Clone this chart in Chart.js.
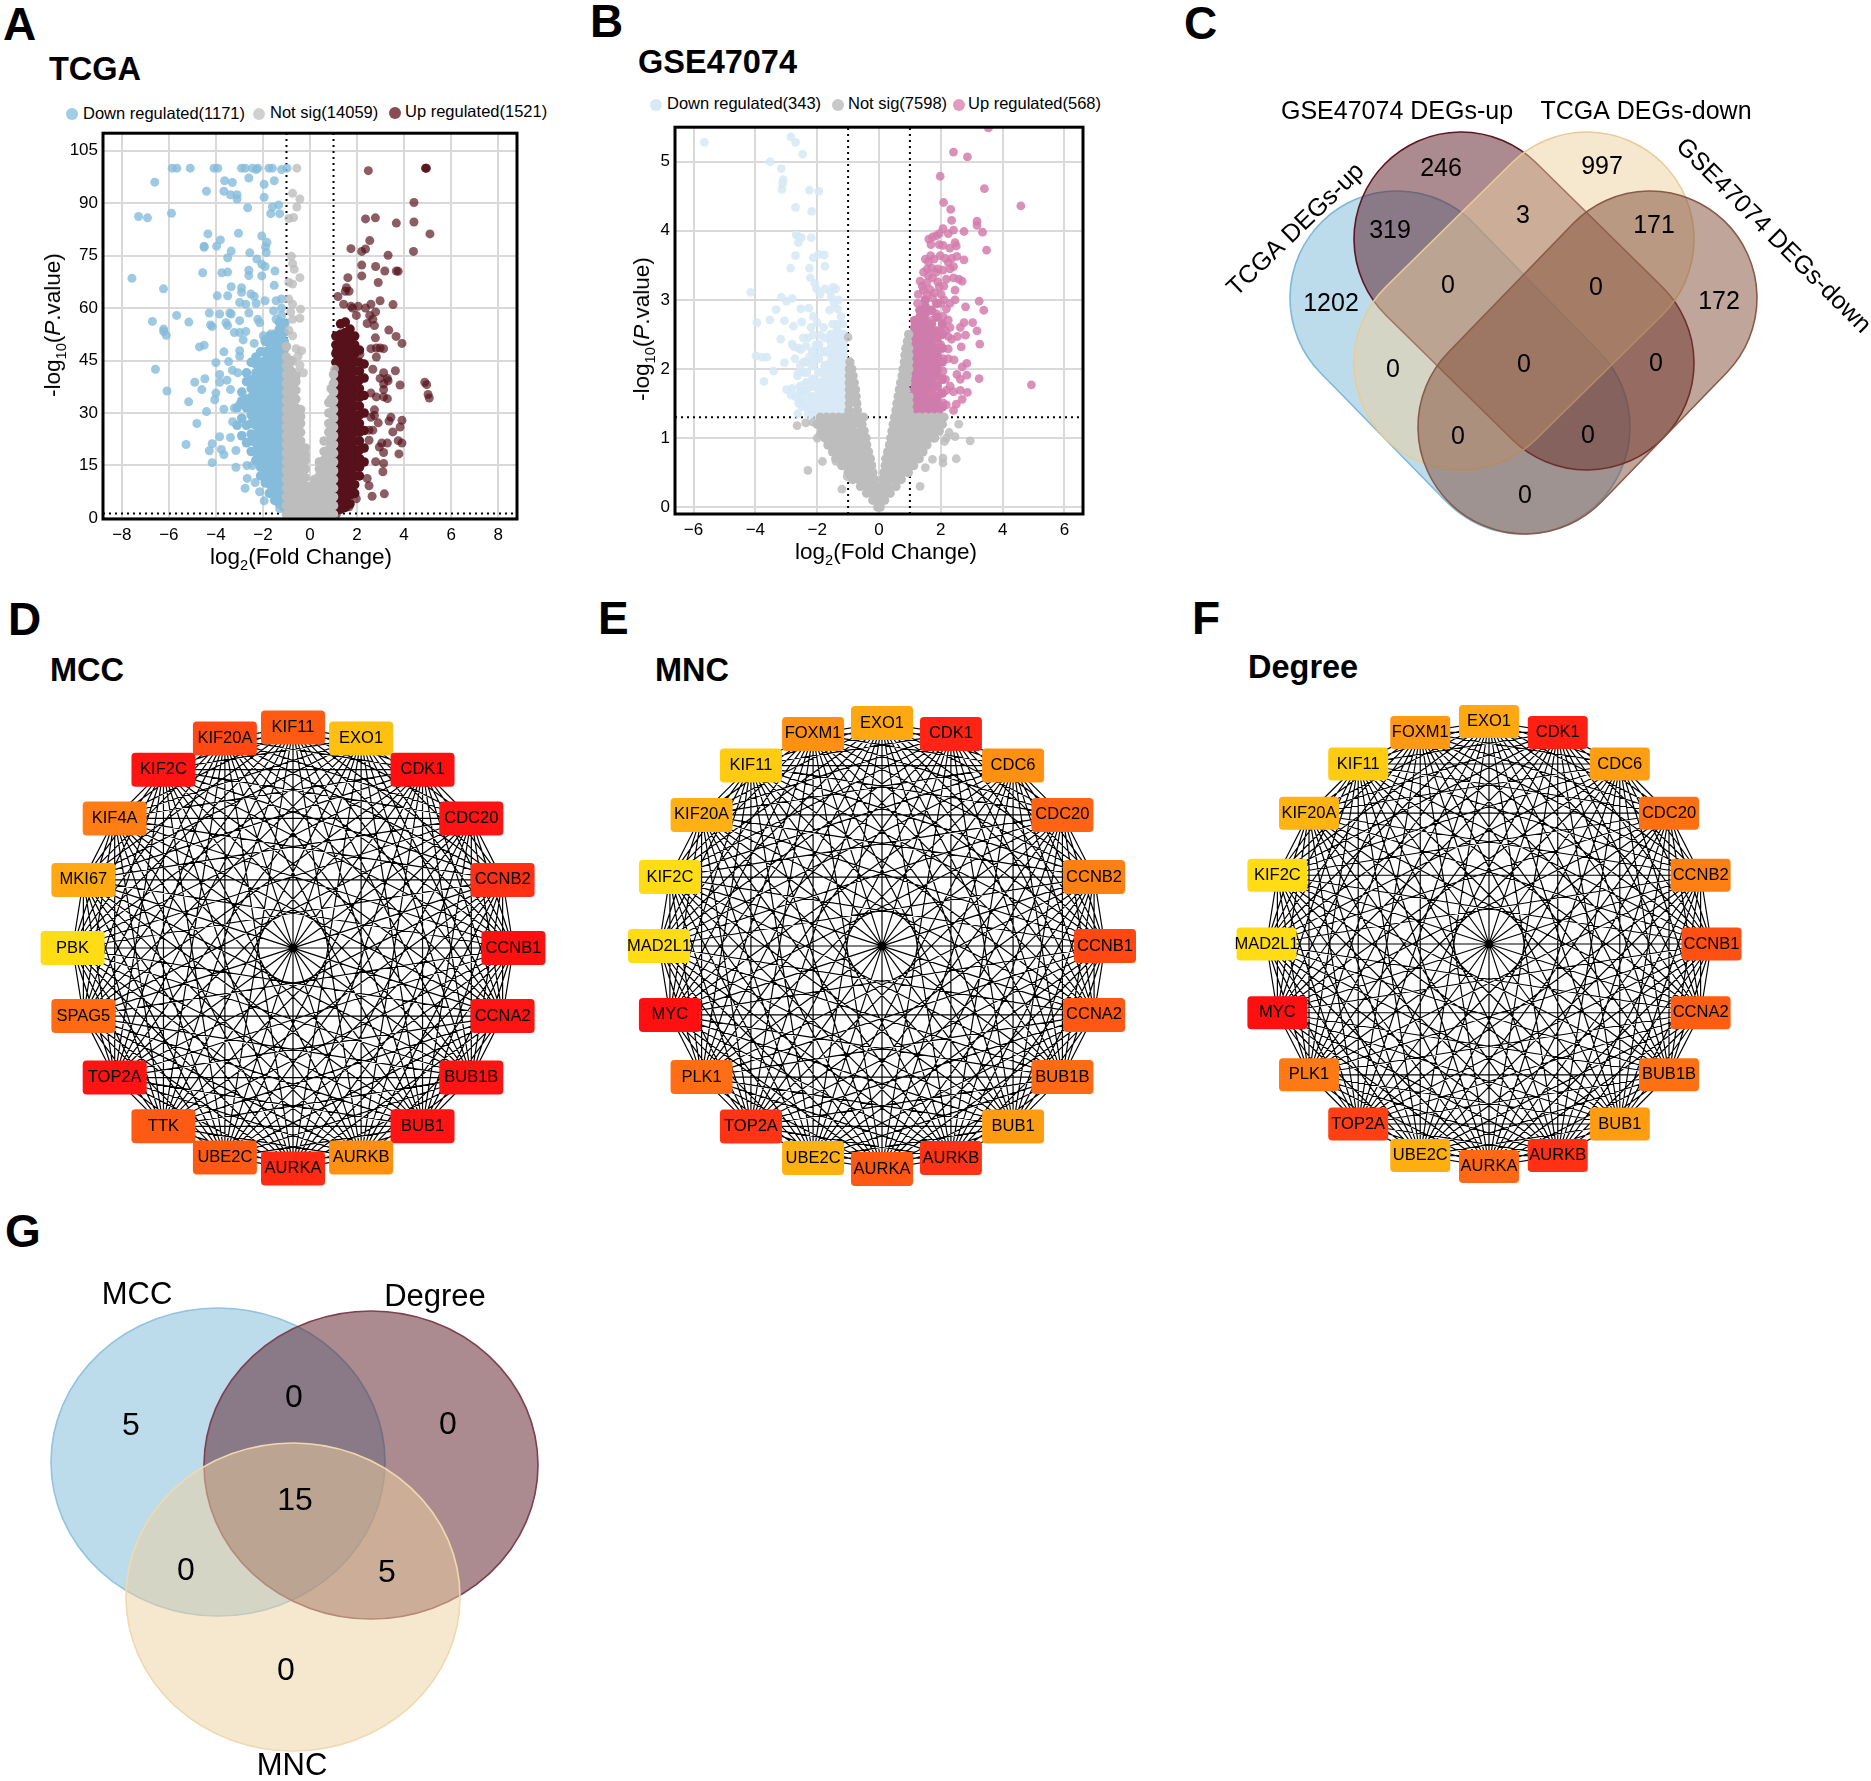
<!DOCTYPE html>
<html>
<head>
<meta charset="utf-8">
<title>DEG volcano plots, Venn diagrams and hub gene networks</title>
<script src="https://cdn.jsdelivr.net/npm/chart.js@4/dist/chart.umd.min.js"></script>
<style>
  html, body { margin: 0; background: #fff; }
  body { position: relative; width: 1871px; height: 1781px; overflow: hidden; color: #000;
         font-family: "Liberation Sans", Arial, sans-serif; }
  canvas { position: absolute; }
  .t { position: absolute; white-space: nowrap; }
  .dot { position: absolute; width: 12px; height: 12px; border-radius: 50%; transform: translate(-50%, -50%); }
  sub { font-size: .65em; line-height: 0; }
</style>
</head>
<body>
<script>
// ---- A: TCGA volcano ----
const tcgaXTicks = [-8, -6, -4, -2, 0, 2, 4, 6, 8];
const tcgaYTicks = [0, 15, 30, 45, 60, 75, 90, 105];
const tcgaLegend = ['Down regulated(1171)', 'Not sig(14059)', 'Up regulated(1521)'];

const tcgaDownPoints = [[-5.86,100],[-5.66,100],[-5.09,100],[-4.08,100],[-3.92,100],[-2.91,100],[-2.76,100],[-2.45,100],[-2.29,99.6],[-2.22,100],[-1.75,100],[-1.6,100],[-1.21,99.6],[-0.98,100],
  [-6.6,96],[-7.29,86.2],[-6.91,85.8],[-5.89,87.1],[-4.4,93.4],[-3.63,96.4],[-3.3,95.9],[-3.66,93.4],[-3.38,92.4],[-3.1,92.4],[-3.1,91.2],[-2.6,97.2],[-1.95,95.4],[-1.52,96.4],[-1.95,91.7],[-2.65,88.7],[-1.6,88.9],[-1.33,89.5],[-1.67,87],[-1.29,87],
  [-4.34,81.2],[-3.81,79.5],[-3.97,77.7],[-4.5,77.7],[-4.5,77.4],[-3.04,81.4],[-2.05,80.6],[-1.83,78.8],[-1.89,77.5],[-1.86,75.9],[-3.35,76.3],[-3.5,74.4],[-2.56,75.8],[-2.26,74],[-2.05,72.5],[-1.91,71.9],[-1.49,70.6],[-4.56,70.1],[-3.75,70.1],[-3.5,70.3],[-2.6,70.8],[-2.6,69.3],[-2.05,69.2],[-7.57,68.5],
  [-6.23,65.5],[-3.35,66.1],[-2.91,65.8],[-2.91,64.5],[-2.51,64],[-2.37,63.4],[-1.52,66.5],[-3.94,63.5],[-3.5,63.5],[-2.99,61.6],[-2.73,61.1],[-2.29,61.3],[-1.91,62.1],[-1.44,62.1],[-1.21,62.6],[-4.28,58.6],[-3.84,58.3],[-3.41,58.6],[-3.35,58.3],[-2.6,58.6],[-2.22,56.8],[-1.55,59.2],[-1.21,60],[-5.67,57.9],[-6.7,56.2],[-5.15,56],
  [-6.22,54],[-6.22,53.3],[-6.11,52.2],[-4.23,55.2],[-4.16,54.7],[-3.57,55.8],[-3.5,55],[-2.99,56.4],[-2.14,55.8],[-1.44,56.8],[-1.21,57.9],[-1.05,55.8],[-3.22,53],[-2.99,53],[-2.73,53.3],[-2.84,50.9],[-1.98,52.1],[-1.67,52.6],[-1.29,54.2],[-4.7,48.9],[-4.5,49.4],[-3.66,47.5],[-2.99,47.8],[-2.37,49.9],[-1.91,51],
  [-4,44.4],[-3.46,44.7],[-2.99,46.2],[-6.57,42.5],[-3.84,41],[-3.3,42.2],[-3.07,41.5],[-3.53,39.4],[-4.47,39.8],[-4.9,38.8],[-3.84,38.8],[-6.08,36.3],[-4.6,36.7],[-4,35.7],[-4.05,33.8],[-3.38,36.7],[-5.16,33.2],[-3.66,31.1],[-3.22,31.4],[-2.99,32.5],[-4.4,30.4],[-3.29,27.5],[-4.81,27],
  [-5.27,21],[-3.84,23.2],[-3.38,23],[-4.16,21.2],[-3.77,19.6],[-4.28,19.2],[-3.66,18.1],[-3.15,19.3],[-4.16,15.8],[-3.15,14.5],[-2.68,15],[-2.45,15],[-2.67,11.3],[-2.33,10.1],[-2.76,8.5],[-2.14,7.5],[-1.95,4.9],[-1.75,7.1],[-1.29,2.6]];
// the solid mass of overlapping dots, one [x, [y...]] per column
const tcgaDownDense = [
  [-1.1,[3,5.5,8,10.5,13,15.5,18,20.5,23,25.5,28,30.5,33,35.5,38,40.5,43,45.5,48,50.5,53,55.5]],
  [-1.3,[4,6.5,9,11.5,14,16.5,19,21.5,24,26.5,29,31.5,34,36.5,39,41.5,44,46.5,49,51.5,54,56]],
  [-1.5,[5,7.5,10,12.5,15,17.5,20,22.5,25,27.5,30,32.5,35,37.5,40,42.5,45,47.5,50,52.5]],
  [-1.7,[7,9.5,12,14.5,17,19.5,22,24.5,27,29.5,32,34.5,37,39.5,42,44.5,47,49.5,52]],
  [-1.9,[10,12.5,15,17.5,20,22.5,25,27.5,30,32.5,35,37.5,40,42.5,45,47.5,50.5]],
  [-2.1,[12,14.5,17,19.5,22,24.5,27,29.5,32,34.5,37,39.5,42,44.5,47.5]],
  [-2.3,[16.5,19,21.5,24,26.5,29,31.5,34,36.5,39,41.5,44,46]],
  [-2.5,[19,22,24,27,29.5,32,34.5,37,39.5,44.5]],
  [-2.7,[21.5,26.5,31.5,34,39,41.5]],
  [-2.9,[23.5,28.5,33.5,36]],
  [-3.1,[26.5,31.5]]];

const tcgaNotSigPoints = [[-0.56,100],[-0.74,92.8],[-0.43,91.2],[-0.56,88.9],[-0.7,85.9],[-0.9,85.6],[-0.79,74.8],[-0.74,72.7],[-0.67,71.1],[-0.43,68.7],[-0.9,67.4],[-0.74,66.9],[-0.9,62.6],[-0.74,61.1],[-0.4,59.7],[-0.82,58.9],[-0.43,57.1],[-0.74,56.8],[-0.9,53.7],[-0.74,52.1],[-0.59,48.4],[-0.36,47.8],[-0.51,46.2],[-0.74,44.7],[-0.43,43.6],[-0.9,43.6],[-0.28,41.5],[-0.59,41.5],[1.04,42.5]];
const tcgaNotSigDense = [
  [-1,[1,3.5,6,8.5,11,13.5,16,18.5,21,23.5,26,28.5,31,33.5,36,38.5,41,43.5,46,49]],
  [-0.8,[0,2,4.5,7,9.5,12,14.5,17,19.5,22,24.5,27,29.5,32,34.5,37,39.5,42,45]],
  [-0.6,[-0.2,2,4,6.5,9,11.5,14,16.5,19,21.5,24,26.5,29,31.5,34,36.5,39,40.5]],
  [-0.4,[0,2,4.5,7,9.5,12,14.5,17,19.5,22,24.5,27,29,31]],
  [-0.2,[-0.2,2,4,6.5,9,11.5,14,16.5,18,20]],
  [0,[0,2,4.5,7,9]],
  [0.2,[-0.2,2,4,6.5,9,11]],
  [0.4,[0,2,4.5,7,9.5,12,14,16]],
  [0.6,[-0.2,2,4,6.5,9,11.5,14,16.5,19,22]],
  [0.8,[0,2,4.5,7,9.5,12,14.5,17,19.5,22,24.5,27,30,33]],
  [0.9,[1,5,10,15,20,25,30,34,37]],
  [1,[1,3.5,6,8.5,11,13.5,16,18.5,21,23.5,26,28.5,31,33.5,36,38.5,41]]];

const tcgaUpPoints = [[2.48,99.3],[4.91,100],[4.95,100],[4.93,100],[4.42,90.2],[2.36,85.5],[2.78,85.8],[3.67,84.3],[4.42,84.6],[5.1,81.2],[2.54,79.3],[1.74,77],[2.2,76.2],[2.36,76.9],[4.4,76.2],[3.32,75.1],[2.2,72.3],[2.79,71.9],[3.18,70.6],[3.67,70.6],[3.75,70.5],[2.2,69.2],[1.61,68.7],[2.9,67.3],[1.55,65.8],[1.5,64.8],[1.66,64.8],[1.19,63.3],
  [2.98,62.1],[2.59,61.1],[3.53,61],[2.05,60.5],[1.74,60.5],[1.43,61.1],[1.81,60],[2.79,58.9],[2.36,60],[2.54,57.9],[2.67,56.8],[2.43,55.6],[2.74,55],[1.97,57.9],[3.35,53.7],[3.66,51.9],[3.91,49.9],[2.78,51.5],[2.59,48.4],[2.82,48.6],[2.98,48.6],[3.13,48.4],[2.82,46],[2.12,46.8],
  [3.63,42.1],[3.13,41.5],[2.67,42.5],[3.29,39.9],[2.98,39.9],[3.32,39.2],[3.13,38.3],[3.83,38],[3.13,36.7],[4.88,38.8],[4.96,38.1],[5.02,35.3],[5.07,34.3],[2.59,35.7],[2.82,34.6],[3.13,34.6],[3.29,34.1],[2.74,30.9],[2.74,29.3],[3.44,28.8],[3.91,27.9],[3.36,27.7],[2.9,27.2],[2.59,28.8],[3.83,26],[3.52,24.6],[2.67,25.1],[2.51,25.1],
  [3.05,21.4],[3.29,21.4],[2.95,20.3],[3.75,22.1],[3.91,21.4],[3.13,18.7],[3.78,18.3],[2.51,22.2],[2.79,16.1],[3.13,15.6],[3.1,13.2],[2.43,11.3],[2.51,9.2],[2.64,6.2],[3.16,6.9],[1.97,5.5],[1.66,3.2],[1.12,1.1]];
const tcgaUpDense = [
  [1.1,[2,4.5,7,9.5,12,14.5,17,19.5,22,24.5,27,29.5,32,34.5,37,39.5,42,44.5,47,49.5,52]],
  [1.3,[2.5,5,7.5,10,12.5,15,17.5,20,22.5,25,27.5,30,32.5,35,37.5,40,42.5,45,47.5,50,52.5,55.5]],
  [1.5,[3,5.5,8,10.5,13,15.5,18,20.5,23,25.5,28,30.5,33,35.5,38,40.5,43,45.5,48,50.5,53,56]],
  [1.7,[4,6.5,9,11.5,14,16.5,19,21.5,24,26.5,29,31.5,34,36.5,39,41.5,44,46.5,49,51.5,54]],
  [1.9,[7,9.5,12,14.5,17,19.5,22,24.5,27,29.5,32,34.5,37,39.5,42,44.5,47,49.5,52]],
  [2.1,[12,14.5,17,19.5,22,24.5,27,29.5,32,34.5,37,39.5,42,44.5,48]],
  [2.3,[16,20,25,30,35,40,44]]];

// ---- B: GSE47074 volcano ----
const gseXTicks = [-6, -4, -2, 0, 2, 4, 6];
const gseYTicks = [0, 1, 2, 3, 4, 5];
const gseLegend = ['Down regulated(343)', 'Not sig(7598)', 'Up regulated(568)'];

const gseDownPoints = [[-5.65,5.28],[-2.85,5.36],[-2.7,5.28],[-2.47,5.11],[-3.52,5],[-3.16,4.9],[-3.1,4.74],[-3.12,4.68],[-3.14,4.6],[-2.25,4.59],[-1.95,4.57],[-2.7,4.34],[-2.18,4.28],[-2.68,3.94],[-2.59,3.91],[-2.51,3.9],[-2.19,3.9],[-2.61,3.83],[-2.7,3.64],[-2.13,3.61],[-1.95,3.66],[-1.77,3.65],[-2.86,3.46],[-2.25,3.46],[-1.75,3.49],[-2.22,3.32],[-2.08,3.24],[-2.02,3.16],[-4.15,3.11],[-3.16,3.04],[-2.81,3.02],[-2.99,2.98],[-1.74,3.16],[-1.48,3.18],[-1.57,3.11],[-1.4,3.16],[-1.91,3.08],[-1.54,3.03],[-1.45,2.95],[-1.34,2.87],[-3.33,2.86],[-2.53,2.87],[-2.27,2.88],[-1.23,2.76],[-1.17,2.65],[-3.53,2.71],[-3.06,2.7],[-2.13,2.76],[-2.5,2.68],[-2.77,2.62],[-3.95,2.67],[-2,2.67],[-1.79,2.6],[-3.18,2.43],[-2.81,2.36],[-2.76,2.32],[-2.53,2.28],[-2.36,2.33],[-3.98,2.19],[-3.78,2.17],[-3.63,2.17],[-3.06,2.09],[-2.72,2.15],[-3.41,1.97],[-3.72,1.82],[-2.99,1.7],[-2.84,1.62],[-2.64,1.9],[-2.5,1.69],[-2.81,1.72],[-2.13,2.49],[-1.91,2.49],[-2.25,2.17],[-2.62,1.35],[-2.36,1.64],[-2.36,1.53],
  [-2.45,2.45],[-2.3,2.45],[-2.6,2.3],[-2.2,2.6],[-2.05,2.35],[-2.45,2.1],[-2.55,2.05],[-2.6,1.95],[-2.45,1.95],[-2.7,1.6],[-2.6,1.5],[-2.5,1.45],[-2.3,1.35],[-2.15,1.35],[-1.35,2.65],[-1.5,2.65],[-1.3,3],[-1.6,2.85],[-1.75,2.45],[-1.85,2.25],[-2.05,2.15]];
const gseDownDense = [
  [-1.15,[1.4,1.5,1.6,1.7,1.8,1.9,2,2.1,2.2,2.3,2.4,2.5]],
  [-1.35,[1.35,1.45,1.55,1.65,1.75,1.85,1.95,2.05,2.15,2.25,2.35,2.45,2.55]],
  [-1.55,[1.4,1.5,1.6,1.7,1.8,1.9,2,2.1,2.2,2.3,2.4,2.5]],
  [-1.75,[1.35,1.45,1.55,1.65,1.75,1.85,1.95,2.05,2.25]],
  [-1.95,[1.4,1.5,1.6,1.7,1.8,1.95,2.15,2.35]],
  [-2.15,[1.4,1.5,1.6,1.75,1.85,2.05,2.25]],
  [-2.35,[1.45,1.7,1.8,1.95,2.1]],
  [-2.55,[1.55,1.65,1.75]]];

const gseNotSigPoints = [[-2.65,1.18],[-2.37,1.22],[-2.14,1.23],[-2,1],[-1.9,1.05],[-1.83,0.66],[-2.3,0.53],[-1.39,0.66],[-1.2,0.26],[-1.03,0.44],[1.33,0.3],[1.73,0.69],[2.07,0.71],[2.07,0.64],[2.5,0.7],[2.95,0.96],[2.58,1.2],[2.46,1.02],[2.27,1.08],[2.12,0.95],[2.18,1],[-1,2.46],[1.73,1],[1.5,0.57]];
// dense V shape, one [y, [x...]] per row
const gseNotSigDense = [
  [2.5,[0.96]],[2.4,[0.92]],[2.3,[0.87,0.96]],[2.2,[0.84,0.96]],[2.1,[-0.94,0.82,0.96]],[2,[-0.96,-0.88,0.78,0.96]],
  [1.9,[-0.96,-0.84,0.75,0.92]],[1.8,[-0.96,-0.8,0.7,0.9]],[1.7,[-0.96,-0.76,0.66,0.86]],
  [1.6,[-0.96,-0.74,0.62,0.82,0.97]],[1.5,[-0.96,-0.72,0.58,0.78,0.97]],[1.4,[-0.97,-0.7,0.55,0.75,0.97]],
  [1.3,[-1.9,-1.7,-1.5,-1.3,-1.1,-0.9,-0.68,-0.5,0.5,0.7,0.9,1.1,1.3,1.5,1.7,1.9,2.1]],
  [1.2,[-2,-1.8,-1.6,-1.4,-1.2,-1,-0.8,-0.55,0.46,0.66,0.86,1.06,1.26,1.46,1.66,1.86,2.05]],
  [1.1,[-1.85,-1.65,-1.45,-1.25,-1.05,-0.85,-0.6,-0.48,0.42,0.62,0.82,1.02,1.22,1.42,1.62,1.82,1.95]],
  [1,[-1.75,-1.55,-1.35,-1.15,-0.95,-0.75,-0.55,-0.42,0.38,0.58,0.78,0.98,1.18,1.38,1.58,1.8]],
  [0.9,[-1.65,-1.45,-1.25,-1.05,-0.85,-0.65,-0.4,0.34,0.54,0.74,0.94,1.14,1.34,1.55]],
  [0.8,[-1.5,-1.3,-1.1,-0.9,-0.7,-0.5,-0.34,0.28,0.5,0.7,0.9,1.1,1.3,1.42]],
  [0.7,[-1.4,-1.2,-1,-0.8,-0.6,-0.42,-0.28,0.22,0.42,0.62,0.82,1.02,1.22,1.3]],
  [0.6,[-1.2,-1,-0.8,-0.6,-0.42,-0.24,0.2,0.4,0.6,0.8,1,1.12]],
  [0.5,[-1,-0.8,-0.6,-0.4,-0.2,0.16,0.36,0.56,0.76,0.95]],
  [0.4,[-0.85,-0.65,-0.45,-0.25,-0.15,0.12,0.32,0.52,0.72]],
  [0.3,[-0.6,-0.4,-0.2,-0.1,0.1,0.3,0.55]],
  [0.2,[-0.4,-0.22,-0.06,0.06,0.2,0.36]],[0.1,[-0.2,-0.05,0.05,0.18]],[0,[-0.04,0.04]]];

const gseUpPoints = [[3.54,5.49],[2.41,5.14],[2.86,5.07],[1.98,4.79],[3.41,4.61],[4.59,4.36],[2.09,4.41],[2.32,4.31],[3.17,4.14],[3.17,4.08],[2.35,4.15],[2.41,4.01],[2.07,4.03],[2.75,3.99],[3.35,3.98],[1.95,3.96],[1.73,3.91],[1.61,3.88],[1.86,3.93],[2.24,3.96],[1.68,3.8],[1.95,3.8],[2.07,3.79],[2.46,3.83],[2.29,3.75],[3.48,3.72],[2.5,3.78],[1.5,3.59],[1.67,3.64],[1.78,3.59],[1.98,3.64],[2.24,3.54],[2.52,3.63],[2.75,3.58],[1.33,3.27],[1.56,3.45],[1.7,3.46],[2.07,3.43],[2.41,3.48],[2.58,3.3],[2.69,3.27],[2.41,3.32],[1.44,3.4],[1.73,3.32],[1.9,3.26],[2.18,3.3],[2.46,3.14],[1.95,3.19],[1.27,3.08],[1.44,3.14],[1.56,3.08],[1.73,3.03],[2.01,3.08],[2.46,3],[3.24,2.98],[3.39,2.85],[2.8,2.9],[2.18,2.87],[1.73,2.71],[2.07,2.76],[2.24,2.71],[3.03,2.67],[2.75,2.67],[2.63,2.6],[3.17,2.55],[2.8,2.49],[2.54,2.47],[2.24,2.47],[2.35,2.43],[3.26,2.36],[2.66,2.32],[2.24,2.29],[1.9,2.39],[2.84,2.08],[2.69,2.03],[2.07,2.15],[2.24,2.15],[2.43,2.13],[2.07,1.97],[2.52,1.92],[2.84,1.91],[2.63,1.85],[3.24,1.86],[4.93,1.77],[2.18,1.69],[2.63,1.69],[2.86,1.66],[2.41,1.67],[2.69,1.56],[2.5,1.49],[2.41,1.4],[1.95,1.83],[1.9,1.69],[2.07,1.51],[1.95,1.35],[2.18,1.48],[1.73,1.64],
  [1.25,2.95],[1.4,3.2],[1.55,3.25],[1.65,3.15],[1.8,3.1],[1.85,2.95],[2,2.95],[2.1,3],[2.3,2.95],[2.3,2.6],[2.15,2.55],[1.85,3.4],[1.6,3.55],[2.15,3.6],[2.35,3.6],[1.9,3.45],[2.3,3.45],[2.1,3.2],[1.6,3.35],[1.85,2.8],[2,2.55],[2,2.35],[2.15,1.85],[2.3,1.75],[2.05,1.3]];
const gseUpDense = [
  [1.15,[1.4,1.5,1.6,1.7,1.8,1.9,2,2.1,2.2,2.3,2.4,2.5,2.6,2.7]],
  [1.32,[1.35,1.45,1.55,1.65,1.75,1.85,1.95,2.05,2.15,2.25,2.35,2.45,2.55,2.65,2.75,2.85]],
  [1.5,[1.4,1.5,1.6,1.7,1.8,1.9,2,2.1,2.2,2.3,2.4,2.5,2.6,2.7,2.8,2.9,3]],
  [1.7,[1.35,1.45,1.55,1.65,1.75,1.85,1.95,2.05,2.15,2.25,2.35,2.45,2.55,2.65,2.85]],
  [1.88,[1.4,1.5,1.6,1.75,1.9,2,2.1,2.2,2.3,2.45,2.55,2.75,2.95]],
  [2.05,[1.45,1.65,1.85,2.1,2.3,2.5,2.65]]];

// fold change and p value cut-offs, same for both datasets
const foldCuts = [-1, 1];
const pCut = 1.3;

// ---- C and G: Venn diagrams ----
const vennCNames = ['GSE47074 DEGs-up', 'TCGA DEGs-down', 'TCGA DEGs-up', 'GSE47074 DEGs-down'];
const vennCNameX = [1397, 1646, 1296, 1773];
const vennCNameY = [112, 112, 230, 236];
const vennCNameAngle = [0, 0, -44, 45];
const vennCCounts = ['1202', '246', '319', '3', '997', '171', '172', '0', '0', '0', '0', '0', '0', '0', '0'];
const vennCCountX = [1331, 1441, 1390, 1523, 1602, 1654, 1719, 1448, 1596, 1393, 1524, 1656, 1458, 1588, 1525];
const vennCCountY = [304, 169, 231, 216, 167, 226, 302, 286, 288, 370, 365, 364, 437, 436, 496];
const vennCLobes = [
  { ends: [1397, 298, 1523, 427], fill: 'rgba(117,181,214,.48)', edge: '#7DB9D9' },
  { ends: [1461, 239, 1587, 363], fill: 'rgba(87,24,34,.5)', edge: '#5E1520' },
  { ends: [1587, 239, 1461, 363], fill: 'rgba(237,207,159,.5)', edge: '#E9CB97' },
  { ends: [1650, 298, 1525, 427], fill: 'rgba(127,76,53,.5)', edge: '#8A5A48' }
];
const vennCLobeRadius = 107;

const vennGNames = ['MCC', 'Degree', 'MNC'];
const vennGNameX = [137, 435, 292];
const vennGNameY = [1295, 1297, 1766];
const vennGCounts = ['5', '0', '0', '15', '0', '5', '0'];
const vennGCountX = [131, 294, 448, 295, 186, 387, 286];
const vennGCountY = [1426, 1398, 1425, 1501, 1571, 1573, 1671];
const vennGSets = [
  { cx: 218, cy: 1462, rx: 167, ry: 154, fill: 'rgba(117,181,214,.48)', edge: '#92C4DF' },
  { cx: 371, cy: 1465, rx: 167, ry: 154, fill: 'rgba(87,24,34,.5)', edge: '#7E4050' },
  { cx: 293, cy: 1597, rx: 167, ry: 154, fill: 'rgba(237,207,159,.5)', edge: '#EFD9AF' }
];

// ---- D, E, F: hub gene networks, clockwise from the top node ----
const mccGenes = ['KIF11','EXO1','CDK1','CDC20','CCNB2','CCNB1','CCNA2','BUB1B','BUB1','AURKB','AURKA','UBE2C','TTK','TOP2A','SPAG5','PBK','MKI67','KIF4A','KIF2C','KIF20A'];
const mccColors = ['#FF5A14','#FFC010','#FF1010','#FF1414','#FF2F14','#FF1010','#FF1414','#FF1414','#FF1414','#FF9012','#FF2A14','#FF5A14','#FF5A14','#FF1414','#FF6A14','#FFDC14','#FFA812','#FF7D14','#FF1414','#FF4814'];
const mncGenes = ['EXO1','CDK1','CDC6','CDC20','CCNB2','CCNB1','CCNA2','BUB1B','BUB1','AURKB','AURKA','UBE2C','TOP2A','PLK1','MYC','MAD2L1','KIF2C','KIF20A','KIF11','FOXM1'];
const mncColors = ['#FFA812','#FF2414','#FF9012','#FF6414','#FF8012','#FF4814','#FF5814','#FF6A14','#FF9C12','#FF3414','#FF5814','#FFB012','#FF3414','#FF6E14','#FF1010','#FFDC14','#FFDC14','#FFB012','#FFCC12','#FF9012'];
const degreeGenes = mncGenes;
const degreeColors = ['#FFA812','#FF2014','#FF9E12','#FF7012','#FF8012','#FF5014','#FF5C14','#FF7012','#FF9C12','#FF3014','#FF6814','#FFAE12','#FF4014','#FF7A14','#FF1010','#FFDC14','#FFDC14','#FFB412','#FFCC12','#FF9812'];

// ---- helpers ----
const FONT = '"Liberation Sans", Arial, sans-serif';

function addText(html, x, y, css, anchorLeft, rotate) {
  const el = document.createElement('div');
  el.className = 't';
  el.innerHTML = html;
  el.style.cssText = `left:${x}px;top:${y}px;${css};transform:translate(${anchorLeft ? '0' : '-50%'},-50%)${rotate ? ' rotate(' + rotate + 'deg)' : ''}`;
  document.body.appendChild(el);
}

function addCanvas(left, top, width, height) {
  const c = document.createElement('canvas');
  c.width = width;
  c.height = height;
  c.style.left = left + 'px';
  c.style.top = top + 'px';
  document.body.appendChild(c);
  return c.getContext('2d');
}

const pairs = list => list.map(([x, y]) => ({ x, y }));
const columns = list => list.flatMap(([x, ys]) => ys.map(y => ({ x, y })));
const rows = list => list.flatMap(([y, xs]) => xs.map(x => ({ x, y })));

// black frame round the plot area
const framePlugin = {
  id: 'frame',
  afterDraw(chart) {
    const a = chart.chartArea, ctx = chart.ctx;
    ctx.save();
    ctx.strokeStyle = '#000';
    ctx.lineWidth = 3;
    ctx.strokeRect(a.left, a.top, a.width, a.height);
    ctx.restore();
  }
};

// venn shapes, sized in data units and placed through the scales
const vennPlugin = {
  id: 'vennShapes',
  beforeDatasetsDraw(chart, args, opts) {
    const ctx = chart.ctx, sx = chart.scales.x, sy = chart.scales.y;
    for (const s of opts.shapes || []) {
      ctx.beginPath();
      if (s.ends) {
        const [a, b, c, d] = s.ends;
        const x1 = sx.getPixelForValue(a), y1 = sy.getPixelForValue(b);
        const x2 = sx.getPixelForValue(c), y2 = sy.getPixelForValue(d);
        const t = Math.atan2(y2 - y1, x2 - x1);
        ctx.arc(x1, y1, opts.radius, t + Math.PI / 2, t + Math.PI * 1.5);
        ctx.arc(x2, y2, opts.radius, t - Math.PI / 2, t + Math.PI / 2);
        ctx.closePath();
      } else {
        ctx.ellipse(sx.getPixelForValue(s.cx), sy.getPixelForValue(s.cy), s.rx, s.ry, 0, 0, Math.PI * 2);
      }
      ctx.fillStyle = s.fill;
      ctx.fill();
      ctx.strokeStyle = s.edge;
      ctx.lineWidth = 1.6;
      ctx.stroke();
    }
  }
};

// text (and optional boxes) on the points of a dataset
const markTextPlugin = {
  id: 'markText',
  afterDatasetsDraw(chart) {
    const ctx = chart.ctx;
    chart.data.datasets.forEach((ds, di) => {
      if (!ds.texts) return;
      chart.getDatasetMeta(di).data.forEach((pt, i) => {
        ctx.save();
        ctx.translate(pt.x, pt.y);
        if (ds.boxColors) {
          ctx.fillStyle = ds.boxColors[i];
          ctx.beginPath();
          ctx.roundRect(-ds.boxW / 2, -ds.boxH / 2, ds.boxW, ds.boxH, 4);
          ctx.fill();
        }
        if (ds.angles) ctx.rotate(ds.angles[i] * Math.PI / 180);
        ctx.fillStyle = '#000';
        ctx.font = ds.textFont;
        ctx.textAlign = 'center';
        ctx.textBaseline = 'middle';
        ctx.fillText(ds.texts[i], 0, 0);
        ctx.restore();
      });
    });
  }
};

const scatterOptions = {
  responsive: false,
  animation: false,
  devicePixelRatio: 1,
  events: []
};

function cutLine(points) {
  return { data: points, showLine: true, borderColor: '#000', borderWidth: 2, borderDash: [2, 4], pointRadius: 0, fill: false };
}

function dots(data, color, radius) {
  return { data, backgroundColor: color, borderWidth: 0, pointRadius: radius, showLine: false };
}

function volcano(box, xRange, yRange, xTicks, yTicks, datasets) {
  const pad = 60, topPad = 12; // topPad is more than half a tick label
  const ctx = addCanvas(box.left - pad, box.top - topPad, box.width + pad + 12, box.height + topPad + 40);
  const axisStyle = { color: '#000', font: { family: FONT, size: 17 } };
  const minus = v => (v < 0 ? '\u2212' + (-v) : '' + v);
  new Chart(ctx, {
    type: 'scatter',
    data: { datasets },
    plugins: [framePlugin],
    options: {
      ...scatterOptions,
      layout: { padding: { top: topPad, right: 12, left: 0, bottom: 0 } },
      plugins: { legend: { display: false }, tooltip: { enabled: false } },
      scales: {
        x: {
          type: 'linear', min: xRange[0], max: xRange[1],
          afterBuildTicks: s => { s.ticks = xTicks.map(value => ({ value })); },
          afterFit: s => { s.height = 40; },
          grid: { color: '#d9d9d9', lineWidth: 2, drawTicks: false },
          border: { display: false },
          ticks: { ...axisStyle, padding: 6, maxRotation: 0, callback: minus }
        },
        y: {
          type: 'linear', min: yRange[0], max: yRange[1],
          afterBuildTicks: s => { s.ticks = yTicks.map(value => ({ value })); },
          afterFit: s => { s.width = pad; },
          grid: { color: '#d9d9d9', lineWidth: 2, drawTicks: false },
          border: { display: false },
          ticks: { ...axisStyle, padding: 5, callback: minus }
        }
      }
    }
  });
}

function legendRow(items, dotX, dotY, textX, textY, colors) {
  items.forEach((s, i) => {
    const d = document.createElement('div');
    d.className = 'dot';
    d.style.left = dotX[i] + 'px';
    d.style.top = dotY[i] + 'px';
    d.style.background = colors[i];
    document.body.appendChild(d);
    addText(s, textX[i], textY[i], 'font-size:16.5px', true);
  });
}

function venn(left, top, width, height, shapes, radius, datasets) {
  const ctx = addCanvas(left, top, width, height);
  new Chart(ctx, {
    type: 'scatter',
    data: { datasets },
    plugins: [vennPlugin, markTextPlugin],
    options: {
      ...scatterOptions,
      plugins: { legend: { display: false }, tooltip: { enabled: false }, vennShapes: { shapes, radius } },
      scales: {
        x: { type: 'linear', display: false, min: left, max: left + width },
        y: { type: 'linear', display: false, reverse: true, min: top, max: top + height }
      }
    }
  });
}

function textPoints(texts, xs, ys, fontSize, angles) {
  return {
    data: xs.map((x, i) => ({ x, y: ys[i] })), pointRadius: 0, showLine: false,
    texts, angles, textFont: `${fontSize}px ${FONT}`
  };
}

function network(cx, cy, radius, boxW, boxH, genes, colors) {
  const half = 290;
  const ctx = addCanvas(cx - half, cy - half, half * 2, half * 2);
  const nodes = genes.map((g, i) => {
    const a = 2 * Math.PI * i / genes.length;
    return { x: radius * Math.sin(a), y: radius * Math.cos(a) };
  });
  // every gene links to every other gene
  const edges = [];
  nodes.forEach((n, i) => nodes.slice(i + 1).forEach(m => edges.push(n, m, { x: NaN, y: NaN })));
  new Chart(ctx, {
    type: 'scatter',
    data: {
      datasets: [
        { data: nodes, pointRadius: 0, showLine: false, texts: genes, boxColors: colors, boxW, boxH, textFont: `16.5px ${FONT}` },
        { data: edges, showLine: true, spanGaps: false, borderColor: '#000', borderWidth: 1.2, pointRadius: 0, fill: false }
      ]
    },
    plugins: [markTextPlugin],
    options: {
      ...scatterOptions,
      plugins: { legend: { display: false }, tooltip: { enabled: false } },
      scales: {
        x: { type: 'linear', display: false, min: -half, max: half },
        y: { type: 'linear', display: false, min: -half, max: half }
      }
    }
  });
}

// ---- page ----
const panelFont = 'font-size:46px;font-weight:bold';
const titleFont = 'font-size:32.5px;font-weight:bold';
const axisFont = 'font-size:22.5px';
const xTitle = 'log<sub>2</sub>(Fold Change)';
const yTitle = '-log<sub>10</sub>(<i>P</i>.value)';

[['A', 3, 24], ['B', 590, 21], ['C', 1184, 23], ['D', 8, 619], ['E', 598, 618], ['F', 1192, 618], ['G', 5, 1231]]
  .forEach(([s, x, y]) => addText(s, x, y, panelFont, true));

addText('TCGA', 49, 69, titleFont, true);
addText('GSE47074', 638, 62, titleFont, true);
addText('MCC', 50, 670, titleFont, true);
addText('MNC', 655, 670, titleFont, true);
addText('Degree', 1248, 667, titleFont, true);

// A
legendRow(tcgaLegend, [72, 259, 395], [114, 114, 113], [83, 270, 405], [113, 112, 111], ['#9FCDE5', '#D0D0D0', '#8A4B55']);
volcano({ left: 103, top: 130, width: 414, height: 389 }, [-8.8, 8.8], [-0.3, 110], tcgaXTicks, tcgaYTicks, [
  dots(pairs(tcgaNotSigPoints), 'rgba(189,189,189,.8)', 4.5),
  dots(columns(tcgaNotSigDense), '#BDBDBD', 4.8),
  dots(pairs(tcgaDownPoints), 'rgba(133,188,219,.8)', 4.5),
  dots(columns(tcgaDownDense), '#85BCDB', 4.8),
  dots(pairs(tcgaUpPoints), 'rgba(86,17,26,.68)', 4.5),
  dots(columns(tcgaUpDense), '#56111A', 4.8),
  cutLine([{ x: foldCuts[0], y: -0.3 }, { x: foldCuts[0], y: 110 }]),
  cutLine([{ x: foldCuts[1], y: -0.3 }, { x: foldCuts[1], y: 110 }]),
  cutLine([{ x: -8.8, y: pCut }, { x: 8.8, y: pCut }])
]);
addText(xTitle, 301, 557, axisFont);
addText(yTitle, 53, 325, axisFont, false, -90);

// B
legendRow(gseLegend, [656, 838, 959], [105, 105, 105], [667, 848, 968], [103, 103, 103], ['#D8E9F5', '#C8C8C8', '#E29BBF']);
volcano({ left: 675, top: 124, width: 408, height: 390 }, [-6.6, 6.6], [-0.1, 5.5], gseXTicks, gseYTicks, [
  dots(pairs(gseNotSigPoints), 'rgba(189,189,189,.85)', 4.4),
  dots(rows(gseNotSigDense), '#BDBDBD', 4.7),
  dots(pairs(gseDownPoints), 'rgba(214,233,246,.85)', 4.4),
  dots(columns(gseDownDense), '#D9EAF6', 4.7),
  dots(pairs(gseUpPoints), 'rgba(211,124,172,.85)', 4.4),
  dots(columns(gseUpDense), '#CE7CAC', 4.7),
  cutLine([{ x: foldCuts[0], y: -0.1 }, { x: foldCuts[0], y: 5.5 }]),
  cutLine([{ x: foldCuts[1], y: -0.1 }, { x: foldCuts[1], y: 5.5 }]),
  cutLine([{ x: -6.6, y: pCut }, { x: 6.6, y: pCut }])
]);
addText(xTitle, 886, 552, axisFont);
addText(yTitle, 642, 329, axisFont, false, -90);

// C
venn(1180, 80, 691, 480, vennCLobes, vennCLobeRadius, [
  textPoints(vennCCounts, vennCCountX, vennCCountY, 25),
  textPoints(vennCNames, vennCNameX, vennCNameY, 25, vennCNameAngle)
]);

// D, E, F
network(293, 948, 220.4, 64, 34, mccGenes, mccColors);
network(882, 946, 223, 62, 34, mncGenes, mncColors);
network(1489, 944, 222.5, 60, 33, degreeGenes, degreeColors);

// G
venn(0, 1270, 570, 511, vennGSets, 0, [
  textPoints(vennGCounts, vennGCountX, vennGCountY, 32),
  textPoints(vennGNames, vennGNameX, vennGNameY, 31)
]);
</script>
</body>
</html>
